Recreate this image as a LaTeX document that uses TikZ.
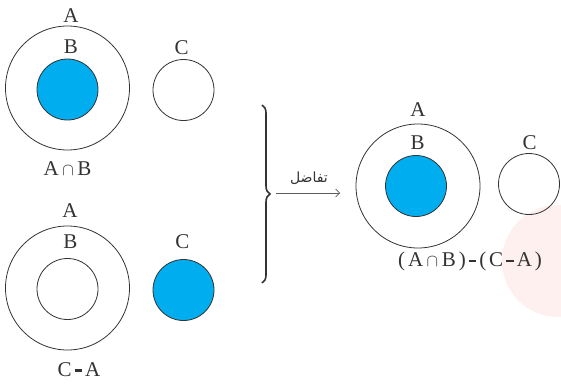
\documentclass[tikz,border=0pt]{standalone}
\usepackage{fontspec}
\setmainfont{Liberation Serif}
\newfontfamily\arabicfont[Script=Arabic]{DejaVu Sans}
\TeXXeTstate=1
\usetikzlibrary{decorations.pathreplacing,arrows.meta}
\definecolor{setblue}{HTML}{00AEEF}
\definecolor{ink}{HTML}{333333}
\definecolor{blush}{HTML}{FEF0EF}
% short heavy difference bar and a compact intersection sign
\newcommand{\dsh}{\hspace{3pt}\rule[4.2pt]{7.5pt}{2.6pt}\hspace{3pt}}
\newcommand{\capsym}{\hspace{3.5pt}{\fontsize{18}{18}\selectfont$\cap$}\hspace{3.5pt}}
\newcommand{\gap}{\hspace{3pt}}
\tikzset{
  setout/.style={circle,draw=ink,line width=0.8pt,minimum size=124pt,inner sep=0pt},
  setin/.style={circle,draw=ink,line width=0.8pt,minimum size=61pt,inner sep=0pt},
  filled/.style={fill=setblue},
  lbl/.style={text=ink,font=\fontsize{21}{23}\selectfont,inner sep=0pt}
}
\begin{document}
\begin{tikzpicture}[x=1pt,y=-1pt]
\useasboundingbox (0,0) rectangle (561,383);
% soft background disc
\begin{scope}
\clip (0,0) rectangle (561,383);
\fill[blush] (558,261) circle (56);
\end{scope}

% top-left: A with B shaded, and C
\node[setout] (A1) at (67.5,88) {};
\node[setin,filled] (B1) at (67.5,89.5) {};
\node[setin] (C1) at (183.5,90) {};
\node[lbl] (lA1) at (71,16) {A};
\node[lbl] (lB1) at (71,46.5) {B};
\node[lbl] (lC1) at (181.5,48) {C};
\node[lbl,anchor=base] (cap1) at (67.5,175.5) {A\capsym B};

% bottom-left: A with B, and C shaded
\node[setout] (A2) at (67.5,288) {};
\node[setin] (B2) at (67.5,289) {};
\node[setin,filled] (C2) at (183.5,290) {};
\node[lbl] (lA2) at (70,210.5) {A};
\node[lbl] (lB2) at (70.5,242) {B};
\node[lbl] (lC2) at (182.5,242) {C};
\node[lbl,anchor=base] (cap2) at (79,376) {C\dsh A};

% brace joining the two cases
\coordinate (bt) at (262,105);
\coordinate (bb) at (262,283);
\draw[ink,line width=1.6pt,decorate,decoration={brace,amplitude=8pt}] (bt) -- (bb);

% arrow with label
\coordinate (ar1) at (276,193);
\coordinate (ar2) at (340,193);
\draw[ink!80,line width=0.6pt,-{Straight Barb[length=4pt,width=8pt]}] (ar1) -- (ar2);
\node[text=ink,font=\arabicfont\fontsize{14}{16}\selectfont,inner sep=0pt] (diff) at (309,178) {\beginR تفاضل\endR};

% result
\node[setout] (A3) at (418,186) {};
\node[setin,filled] (B3) at (416,186) {};
\node[setin] (C3) at (529,184) {};
\node[lbl] (lA3) at (418,110) {A};
\node[lbl] (lB3) at (417.5,142.5) {B};
\node[lbl] (lC3) at (529.5,142.5) {C};
\node[lbl,anchor=base] (res) at (470,266.5) {(\gap A\capsym B\gap)\dsh(\gap C\dsh A\gap)};
\end{tikzpicture}
\end{document}
